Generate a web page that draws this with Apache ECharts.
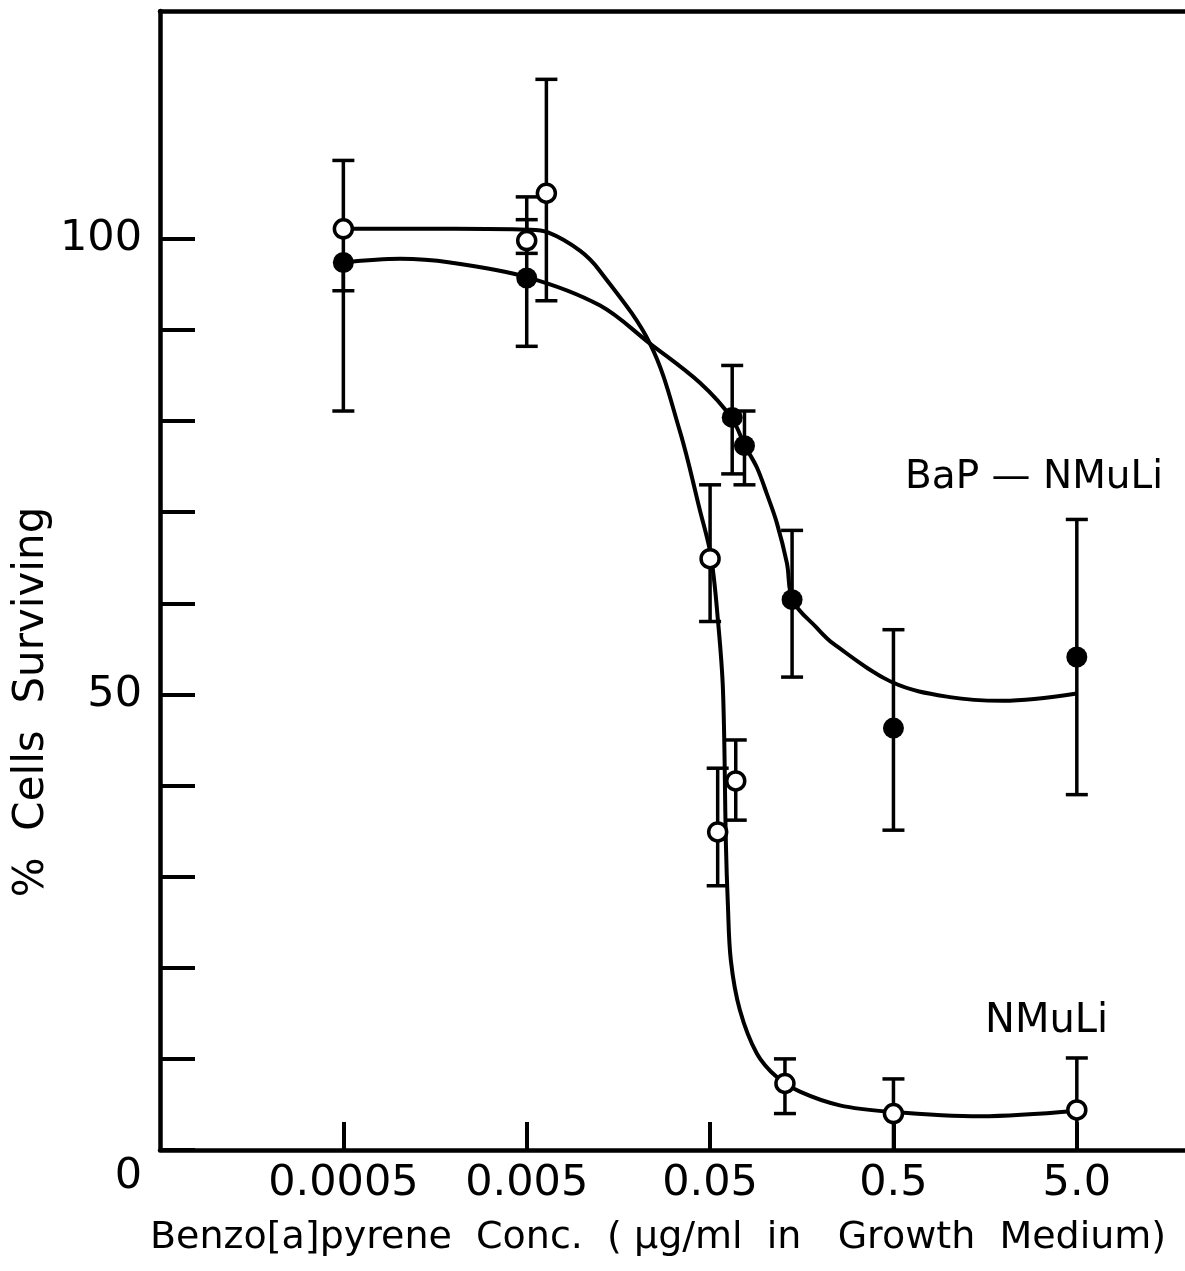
<!DOCTYPE html>
<html>
<head>
<meta charset="utf-8">
<title>BaP survival</title>
<script src="https://cdn.jsdelivr.net/npm/echarts@6/dist/echarts.min.js"></script>
<style>
  html, body { margin: 0; padding: 0; background: #fff; }
  #chart { width: 1185px; height: 1271px; }
</style>
</head>
<body>
<div id="chart"></div>
<script>
// concentrations in ug/ml
const xTickValues = [0.0005, 0.005, 0.05, 0.5, 5.0];
const xTickLabels = ['0.0005', '0.005', '0.05', '0.5', '5.0'];
const yTickValues = [0, 10, 20, 30, 40, 50, 60, 70, 80, 90, 100];
const yLabelValues = [50, 100];

// NMuLi (open circles)
const nmuliConc = [0.0005, 0.005, 0.0064, 0.05, 0.055, 0.069, 0.128, 0.5, 5.0];
const nmuliPct  = [101.1, 99.8, 105.0, 64.9, 34.9, 40.5, 7.3, 4.0, 4.4];
const nmuliLow  = [94.3, 98.4, 93.2, 58.0, 29.0, 36.2, 4.0, 0, 0];
const nmuliHigh = [108.6, 102.1, 117.5, 73.0, 41.9, 45.0, 10.0, 7.8, 10.1];

// BaP-NMuLi (filled circles)
const bapConc = [0.0005, 0.005, 0.066, 0.077, 0.14, 0.5, 5.0];
const bapPct  = [97.4, 95.7, 80.4, 77.3, 60.4, 46.3, 54.1];
const bapLow  = [81.1, 88.2, 74.2, 73.0, 51.9, 35.1, 39.0];
const bapHigh = [97.4, 104.6, 86.1, 81.1, 68.0, 57.1, 69.2];

// hand drawn fitted curves
const nmuliCurveConc = [0.0005, 0.00203, 0.005, 0.00653, 0.00975, 0.0125, 0.0235, 0.0342, 0.044, 0.0505,
  0.0552, 0.0588, 0.061, 0.0625, 0.0649, 0.0726, 0.0899, 0.1156, 0.1545, 0.255, 0.478, 1.48, 5.0];
const nmuliCurvePct = [101.1, 101.1, 101.0, 100.7, 98.7, 96.5, 88.5, 78.9, 70.2, 65.2,
  58.1, 50.4, 33.5, 27.0, 20.8, 15.4, 10.6, 8.0, 6.4, 4.9, 4.2, 3.7, 4.3];
const bapCurveConc = [0.0005, 0.00102, 0.00191, 0.005, 0.0125, 0.0235, 0.044, 0.0657, 0.0774, 0.09,
  0.102, 0.1157, 0.1312, 0.1414, 0.191, 0.234, 0.496, 1.015, 1.975, 5.0];
const bapCurvePct = [97.4, 97.8, 97.4, 95.8, 92.7, 88.5, 84.2, 80.3, 77.3, 74.9,
  72.0, 68.8, 64.4, 60.3, 57.3, 55.6, 51.3, 49.7, 49.3, 50.1];

// x axis: decades above 0.00005 ug/ml (log scale, origin at the y axis)
const X0 = 0.00005;
const dec = c => Math.log10(c / X0);

const FONT = 'DejaVu Sans';
const pairs = (xs, ys) => xs.map((x, i) => [dec(x), ys[i]]);
const errRows = (xs, lo, hi, ys) => xs.map((x, i) => [dec(x), lo[i], hi[i], ys[i]]);

function renderErr(params, api) {
  const x = api.value(0);
  const lo = api.coord([x, api.value(1)]);
  const hi = api.coord([x, api.value(2)]);
  const hw = 11;
  const style = { stroke: '#000', lineWidth: 3.5 };
  const kids = [{ type: 'line', shape: { x1: lo[0], y1: lo[1], x2: hi[0], y2: hi[1] }, style }];
  if (api.value(2) > api.value(3)) {
    kids.push({ type: 'line', shape: { x1: hi[0] - hw, y1: hi[1], x2: hi[0] + hw, y2: hi[1] }, style });
  }
  if (api.value(1) < api.value(3) && api.value(1) > 0) {
    kids.push({ type: 'line', shape: { x1: lo[0] - hw, y1: lo[1], x2: lo[0] + hw, y2: lo[1] }, style });
  }
  return { type: 'group', children: kids };
}

const chart = echarts.init(document.getElementById('chart'));

chart.setOption({
  backgroundColor: '#fff',
  animation: false,
  grid: { left: 160, right: 0, top: 11, bottom: 121, containLabel: false, outerBoundsMode: 'none' },
  xAxis: [
    {
      type: 'value',
      min: 0,
      max: 5.59,
      axisLine: { lineStyle: { color: '#000', width: 4.5 } },
      axisTick: {
        show: true, inside: true, length: 28,
        customValues: xTickValues.map(dec),
        lineStyle: { color: '#000', width: 4 }
      },
      axisLabel: {
        customValues: xTickValues.map(dec),
        formatter: v => {
          const i = xTickValues.findIndex(t => Math.abs(dec(t) - v) < 1e-6);
          return i >= 0 ? xTickLabels[i] : '';
        },
        margin: 12,
        color: '#000',
        fontFamily: FONT,
        fontSize: 43
      },
      splitLine: { show: false }
    },
    {
      type: 'value',
      position: 'top',
      min: 0,
      max: 5.59,
      axisLine: { show: true, lineStyle: { color: '#000', width: 4.5 } },
      axisTick: { show: false },
      axisLabel: { show: false },
      splitLine: { show: false }
    }
  ],
  yAxis: {
    type: 'value',
    min: 0,
    max: 125,
    axisLine: { show: true, lineStyle: { color: '#000', width: 4.5 } },
    axisTick: {
      show: true, inside: true, length: 35,
      customValues: yTickValues,
      lineStyle: { color: '#000', width: 4 }
    },
    axisLabel: {
      customValues: yLabelValues,
      margin: 18,
      color: '#000',
      fontFamily: FONT,
      fontSize: 43
    },
    splitLine: { show: false }
  },
  graphic: [
    {
      type: 'text', x: 142, y: 1177,
      style: { text: '0', font: '43px "DejaVu Sans"', fill: '#000', align: 'right', verticalAlign: 'middle' }
    },
    {
      type: 'text', x: 32, y: 702, rotation: Math.PI / 2,
      style: { text: '%  Cells  Surviving', font: '42px "DejaVu Sans"', fill: '#000', align: 'center', verticalAlign: 'middle' }
    },
    {
      type: 'text', x: 150, y: 1238,
      style: { text: 'Benzo[a]pyrene  Conc.  ( µg/ml  in   Growth  Medium)', font: '38px "DejaVu Sans"', fill: '#000', align: 'left', verticalAlign: 'middle' }
    },
    {
      type: 'text', x: 905, y: 478,
      style: { text: 'BaP — NMuLi', font: '39px "DejaVu Sans"', fill: '#000', align: 'left', verticalAlign: 'middle' }
    },
    {
      type: 'text', x: 985, y: 1022,
      style: { text: 'NMuLi', font: '40px "DejaVu Sans"', fill: '#000', align: 'left', verticalAlign: 'middle' }
    }
  ],
  series: [
    {
      name: 'NMuLi err', type: 'custom', z: 1,
      renderItem: renderErr,
      encode: { x: 0, y: [1, 2] },
      data: errRows(nmuliConc, nmuliLow, nmuliHigh, nmuliPct)
    },
    {
      name: 'BaP err', type: 'custom', z: 1,
      renderItem: renderErr,
      encode: { x: 0, y: [1, 2] },
      data: errRows(bapConc, bapLow, bapHigh, bapPct)
    },
    {
      name: 'NMuLi fit', type: 'line', z: 2,
      data: pairs(nmuliCurveConc, nmuliCurvePct),
      smooth: 0.35,
      showSymbol: false, symbol: 'none',
      lineStyle: { color: '#000', width: 4 }
    },
    {
      name: 'BaP fit', type: 'line', z: 2,
      data: pairs(bapCurveConc, bapCurvePct),
      smooth: 0.35,
      showSymbol: false, symbol: 'none',
      lineStyle: { color: '#000', width: 4 }
    },
    {
      name: 'BaP-NMuLi', type: 'scatter', z: 3,
      symbol: 'circle', symbolSize: 21,
      itemStyle: { color: '#000', opacity: 1 },
      data: pairs(bapConc, bapPct)
    },
    {
      name: 'NMuLi', type: 'scatter', z: 4,
      symbol: 'circle', symbolSize: 18,
      itemStyle: { color: '#fff', borderColor: '#000', borderWidth: 3.5, opacity: 1 },
      data: pairs(nmuliConc, nmuliPct)
    }
  ]
});
</script>
</body>
</html>
